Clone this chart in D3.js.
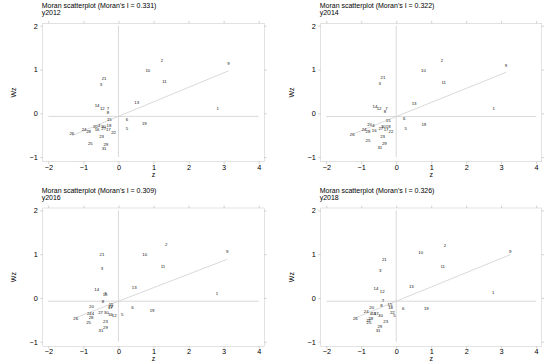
<!DOCTYPE html>
<html>
<head>
<meta charset="utf-8">
<script src="https://cdn.jsdelivr.net/npm/d3@7"></script>
<style>
  body { margin: 0; background: #fff; }
  svg { display: block; font-family: "Liberation Sans", Arial, sans-serif; }
</style>
</head>
<body>
<div id="chart"></div>
<script>
// years and Moran's I per panel
const years = ["y2012", "y2014", "y2016", "y2018"];
const moranI = [0.331, 0.322, 0.309, 0.326];
const meanWz = [-0.07, -0.075, -0.075, -0.075];

// region ids 1..31
const regions = d3.range(1, 32);

// z (standardized value) and Wz (spatial lag) per region
const z2012 = [2.83, 1.24, -0.50, -0.55, 0.24, 0.24, -0.30, -0.30, 3.14, 0.84, 1.31, -0.46, 0.52, -0.61, -0.26, -0.61, -0.29, -0.27, 0.74, -0.66, -0.41, -0.14, -0.48, -0.98, -0.80, -1.33, -0.42, -0.85, -0.36, -0.43, -0.41];
const wz2012 = [0.12, 1.21, 0.66, -0.27, -0.34, -0.13, 0.12, 0.02, 1.13, 0.98, 0.73, 0.11, 0.25, 0.17, -0.14, -0.37, -0.37, -0.28, -0.24, -0.29, 0.79, -0.44, -0.54, -0.38, -0.69, -0.47, -0.34, -0.42, -0.72, -0.30, -0.80];

const z2014 = [2.79, 1.31, -0.47, -0.65, 0.27, 0.23, -0.28, -0.32, 3.14, 0.78, 1.36, -0.49, 0.51, -0.61, -0.23, -0.63, -0.29, -0.23, 0.79, -0.76, -0.38, -0.15, -0.39, -0.92, -0.81, -1.26, -0.44, -0.81, -0.34, -0.37, -0.47];
const wz2014 = [0.11, 1.21, 0.67, -0.27, -0.35, -0.11, 0.12, 0.04, 1.10, 0.98, 0.70, 0.10, 0.23, 0.15, -0.17, -0.39, -0.38, -0.29, -0.26, -0.26, 0.82, -0.41, -0.54, -0.36, -0.61, -0.48, -0.34, -0.41, -0.69, -0.29, -0.77];

const z2016 = [2.81, 1.36, -0.47, -0.73, 0.11, 0.40, -0.38, -0.44, 3.10, 0.75, 1.27, -0.12, 0.45, -0.62, -0.21, -0.23, -0.23, -0.38, 0.96, -0.77, -0.47, -0.22, -0.37, -0.83, -0.85, -1.22, -0.51, -0.78, -0.37, -0.35, -0.50];
const wz2016 = [0.11, 1.22, 0.67, -0.36, -0.37, -0.21, 0.10, -0.08, 1.05, 0.99, 0.71, -0.39, 0.25, 0.20, -0.15, -0.37, -0.22, 0.09, -0.28, -0.20, 1.00, -0.19, -0.53, -0.35, -0.55, -0.48, -0.34, -0.45, -0.67, -0.34, -0.75];

const z2018 = [2.77, 1.39, -0.46, -0.72, -0.05, 0.20, -0.38, -0.42, 3.26, 0.70, 1.33, -0.40, 0.43, -0.58, -0.18, -0.64, -0.57, -0.16, 0.86, -0.70, -0.34, -0.11, -0.30, -0.86, -0.78, -1.17, -0.79, -0.73, -0.47, -0.45, -0.52];
const wz2018 = [0.12, 1.20, 0.62, -0.36, -0.40, -0.25, -0.05, -0.17, 1.05, 1.04, 0.72, 0.14, 0.27, 0.22, -0.16, -0.36, -0.36, -0.21, -0.23, -0.21, 0.88, -0.34, -0.54, -0.30, -0.56, -0.48, -0.52, -0.47, -0.65, -0.40, -0.75];

const zValues = [z2012, z2014, z2016, z2018];
const wzValues = [wz2012, wz2014, wz2016, wz2018];

const xTicks = [-2, -1, 0, 1, 2, 3, 4];
const yTicks = [-1, 0, 1, 2];

const W = 550, H = 364;
const svg = d3.select("#chart").append("svg")
    .attr("width", W)
    .attr("height", H);

// pixel boxes of the four plot regions
const boxes = [
    { x0: 42.7, x1: 264.3, y0: 23.3, y1: 161.7 },
    { x0: 320.7, x1: 541.7, y0: 23.3, y1: 161.7 },
    { x0: 42.7, x1: 264.3, y0: 208, y1: 346.3 },
    { x0: 320.7, x1: 541.7, y0: 208, y1: 346.3 }
];

const gray = "#cfcfcf";
const tickLen = 2.4;

years.forEach((yr, k) => {
    const b = boxes[k];
    const x = d3.scaleLinear().domain([-2.16, 4.16]).range([b.x0, b.x1]);
    const y = d3.scaleLinear().domain([2.055, -1.105]).range([b.y0, b.y1]);
    const g = svg.append("g");

    // plot region frame
    g.append("rect")
        .attr("x", b.x0).attr("y", b.y0)
        .attr("width", b.x1 - b.x0).attr("height", b.y1 - b.y0)
        .attr("fill", "none").attr("stroke", gray).attr("stroke-width", 0.6);

    // axes (left + bottom labelled, top + right mirrored ticks only)
    const styleAxis = sel => {
        sel.select(".domain").remove();
        sel.selectAll("line").attr("stroke", "#b5b5b5").attr("stroke-width", 0.6);
        sel.selectAll("text").attr("fill", "#000").style("font-size", "7.3px")
            .style("font-family", "Liberation Sans, Arial, sans-serif");
    };
    g.append("g").attr("transform", `translate(0,${b.y1})`)
        .call(d3.axisBottom(x).tickValues(xTicks).tickSize(tickLen).tickPadding(0.5).tickFormat(d3.format("d")))
        .call(styleAxis);
    g.append("g").attr("transform", `translate(${b.x0},0)`)
        .call(d3.axisLeft(y).tickValues(yTicks).tickSize(tickLen).tickPadding(2.5).tickFormat(d3.format("d")))
        .call(styleAxis);
    g.append("g").attr("transform", `translate(0,${b.y0})`)
        .call(d3.axisTop(x).tickValues(xTicks).tickSize(tickLen).tickFormat(""))
        .call(styleAxis);
    g.append("g").attr("transform", `translate(${b.x1},0)`)
        .call(d3.axisRight(y).tickValues(yTicks).tickSize(tickLen).tickFormat(""))
        .call(styleAxis);

    // reference lines
    g.append("line")
        .attr("x1", x(-2)).attr("x2", x(4))
        .attr("y1", y(meanWz[k])).attr("y2", y(meanWz[k]))
        .attr("stroke", gray).attr("stroke-width", 0.8);
    g.append("line")
        .attr("x1", x(0)).attr("x2", x(0))
        .attr("y1", y(-1)).attr("y2", y(2))
        .attr("stroke", gray).attr("stroke-width", 0.8);

    // fitted line, slope = Moran's I
    const zs = zValues[k];
    const wzs = wzValues[k];
    const zMin = d3.min(zs), zMax = d3.max(zs);
    const fit = v => meanWz[k] + moranI[k] * v;
    g.append("line")
        .attr("x1", x(zMin)).attr("y1", y(fit(zMin)))
        .attr("x2", x(zMax)).attr("y2", y(fit(zMax)))
        .attr("stroke", gray).attr("stroke-width", 0.8);

    // region labels as markers
    g.selectAll(".lab")
        .data(regions)
        .enter()
        .append("text")
        .attr("class", "lab")
        .attr("x", (d, i) => x(zs[i]))
        .attr("y", (d, i) => y(wzs[i]))
        .attr("dy", "0.35em")
        .attr("text-anchor", "middle")
        .style("font-size", "4.3px")
        .attr("fill", "#111")
        .text(d => d);

    // titles
    g.append("text")
        .attr("x", b.x0 - 1).attr("y", b.y0 - 15)
        .style("font-size", "7px")
        .text(`Moran scatterplot (Moran's I = ${moranI[k].toFixed(3)})`);
    g.append("text")
        .attr("x", b.x0 - 1).attr("y", b.y0 - 8)
        .style("font-size", "7px")
        .text(yr);

    // axis titles
    g.append("text")
        .attr("x", (x(-2.16) + x(4.16)) / 2)
        .attr("y", b.y1 + 15)
        .attr("text-anchor", "middle")
        .style("font-size", "7px")
        .text("z");
    g.append("text")
        .attr("transform", `translate(${b.x0 - 27},${(b.y0 + b.y1) / 2}) rotate(-90)`)
        .attr("text-anchor", "middle")
        .style("font-size", "7px")
        .text("Wz");
});
</script>
</body>
</html>
